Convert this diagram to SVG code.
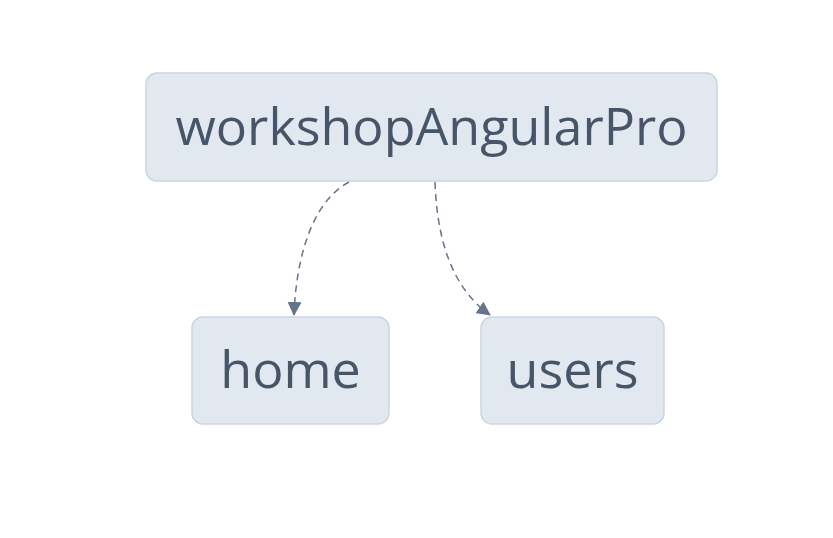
<svg xmlns="http://www.w3.org/2000/svg" width="833" height="538" viewBox="0 0 833 538">
<style>
.box{fill:#e2e8f0;stroke:#cbd5e1;stroke-width:1.5}
.lbl{font-family:"Open Sans","Noto Sans",sans-serif;fill:#475569;text-anchor:middle}
.edge{fill:none;stroke:#64748b;stroke-width:1.5;stroke-dasharray:7 5}
</style>
<defs>
<marker id="arr" viewBox="0 0 14 14" refX="13" refY="7" markerWidth="14" markerHeight="14" markerUnits="userSpaceOnUse" orient="auto">
<path d="M0,0 L14,7 L0,14 z" fill="#64748b"/>
</marker>
</defs>
<rect width="833" height="538" fill="#fff"/>
<g id="edges">
<path class="edge" d="M349,182 C310,203 296,262 294,315" marker-end="url(#arr)"/>
<path class="edge" d="M435,182 C437,240 452,288 490,315" marker-end="url(#arr)"/>
</g>
<g id="node-workshopAngularPro">
<rect class="box" x="146" y="73" width="571" height="108" rx="11"/>
<text class="lbl" x="431.5" y="145" font-size="52">workshopAngularPro</text>
</g>
<g id="node-home">
<rect class="box" x="192" y="317" width="197" height="107" rx="11"/>
<text class="lbl" x="290.5" y="388" font-size="52">home</text>
</g>
<g id="node-users">
<rect class="box" x="481" y="317" width="183" height="107" rx="11"/>
<text class="lbl" x="572.5" y="388" font-size="52">users</text>
</g>
</svg>
